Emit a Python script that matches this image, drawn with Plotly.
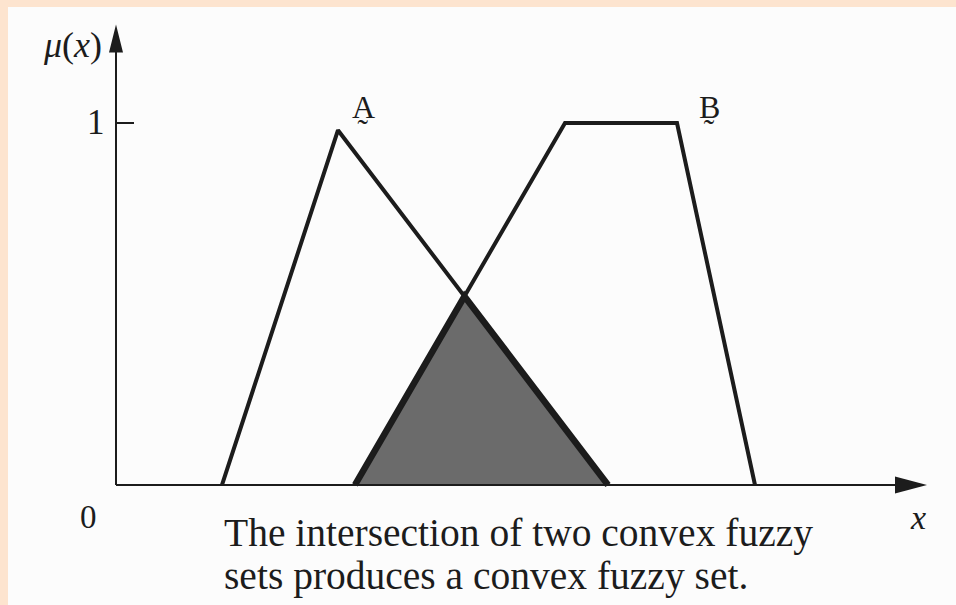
import numpy as np
import plotly.graph_objects as go

# ---- data (x in arbitrary units, mu = membership grade) ----
A_x = [1.06, 2.22, 4.92]
A_mu = [0.0, 0.98, 0.0]
B_x = [2.39, 4.49, 5.61, 6.39]
B_mu = [0.0, 1.0, 1.0, 0.0]
x_axis_end = 7.81
y_axis_end = 1.20
tick_vals = [0, 1]
tick_labels = ["0", "1"]
set_names = ["A\u0330", "B\u0330"]   # fuzzy-set names with tilde below
caption = ["The intersection of two convex fuzzy",
           "sets produces a convex fuzzy set."]

# intersection point of A's falling edge with B's rising edge
p1 = np.array([A_x[1], A_mu[1]]); p2 = np.array([A_x[2], A_mu[2]])
q1 = np.array([B_x[0], B_mu[0]]); q2 = np.array([B_x[1], B_mu[1]])
d1 = p2 - p1; d2 = q2 - q1
t = np.cross(q1 - p1, d2) / np.cross(d1, d2)
cross_pt = p1 + t * d1
I_x = [B_x[0], cross_pt[0], A_x[2]]
I_mu = [0.0, cross_pt[1], 0.0]

INK = "#1c1c1c"
SERIF = "Liberation Serif, DejaVu Serif, Times New Roman, serif"

fig = go.Figure()
# shaded intersection
fig.add_trace(go.Scatter(x=I_x + [I_x[0]], y=I_mu + [I_mu[0]], mode="lines",
                         fill="toself", fillcolor="#6b6b6b",
                         line=dict(width=0, color="rgba(0,0,0,0)"), hoverinfo="skip"))
fig.add_trace(go.Scatter(x=I_x, y=I_mu, mode="lines",
                         line=dict(color=INK, width=6.5), hoverinfo="skip"))
# fuzzy sets A and B
fig.add_trace(go.Scatter(x=A_x, y=A_mu, mode="lines", line=dict(color=INK, width=4)))
fig.add_trace(go.Scatter(x=B_x, y=B_mu, mode="lines", line=dict(color=INK, width=4)))

shapes = [
    dict(type="line", x0=0, x1=x_axis_end, y0=0, y1=0, line=dict(color=INK, width=2)),
    dict(type="line", x0=0, x1=0, y0=0, y1=y_axis_end, line=dict(color=INK, width=2)),
    dict(type="line", xref="x", yref="y", x0=0, x1=0.18, y0=1, y1=1,
         line=dict(color=INK, width=2)),
    # arrowheads (pixel-sized)
    dict(type="path", xref="x", yref="y", xsizemode="pixel", ysizemode="pixel",
         xanchor=x_axis_end, yanchor=0, path="M-2,-8.5 L30,0 L-2,8.5 Z",
         fillcolor=INK, line=dict(width=0)),
    dict(type="path", xref="x", yref="y", xsizemode="pixel", ysizemode="pixel",
         xanchor=0, yanchor=y_axis_end, path="M-7,-2 L0,26 L7,-2 Z",
         fillcolor=INK, line=dict(width=0)),
]

ann = []
def txt(x, y, s, size=30, xanchor="center", yanchor="middle"):
    ann.append(dict(x=x, y=y, xref="x", yref="y", text=s, showarrow=False,
                    xanchor=xanchor, yanchor=yanchor,
                    font=dict(family=SERIF, size=size, color=INK)))

txt(-0.20, tick_vals[1], tick_labels[1], size=35)
txt(-0.28, -0.088, tick_labels[0], size=33)
txt(-0.44, 1.215, "<i>μ</i>(<i>x</i>)", size=36)
txt(8.02, -0.09, "<i>x</i>", size=34)
txt(2.47, 1.045, set_names[0], size=32)
txt(5.93, 1.045, set_names[1], size=32)
txt(1.06, -0.133, caption[0], size=39.5, xanchor="left")
txt(1.06, -0.251, caption[1], size=39.5, xanchor="left")

fig.update_layout(
    width=956, height=605,
    margin=dict(l=8, r=0, t=7, b=0),
    paper_bgcolor="#fde4cf", plot_bgcolor="#fcfcfc",
    showlegend=False, shapes=shapes, annotations=ann,
    xaxis=dict(range=[-1.08, 8.40], visible=False, fixedrange=True),
    yaxis=dict(range=[-0.3315, 1.3204], visible=False, fixedrange=True),
)
fig.write_html("out.html", config={"displayModeBar": False},
               post_script="document.body.style.margin='0';document.body.style.overflow='hidden';")
